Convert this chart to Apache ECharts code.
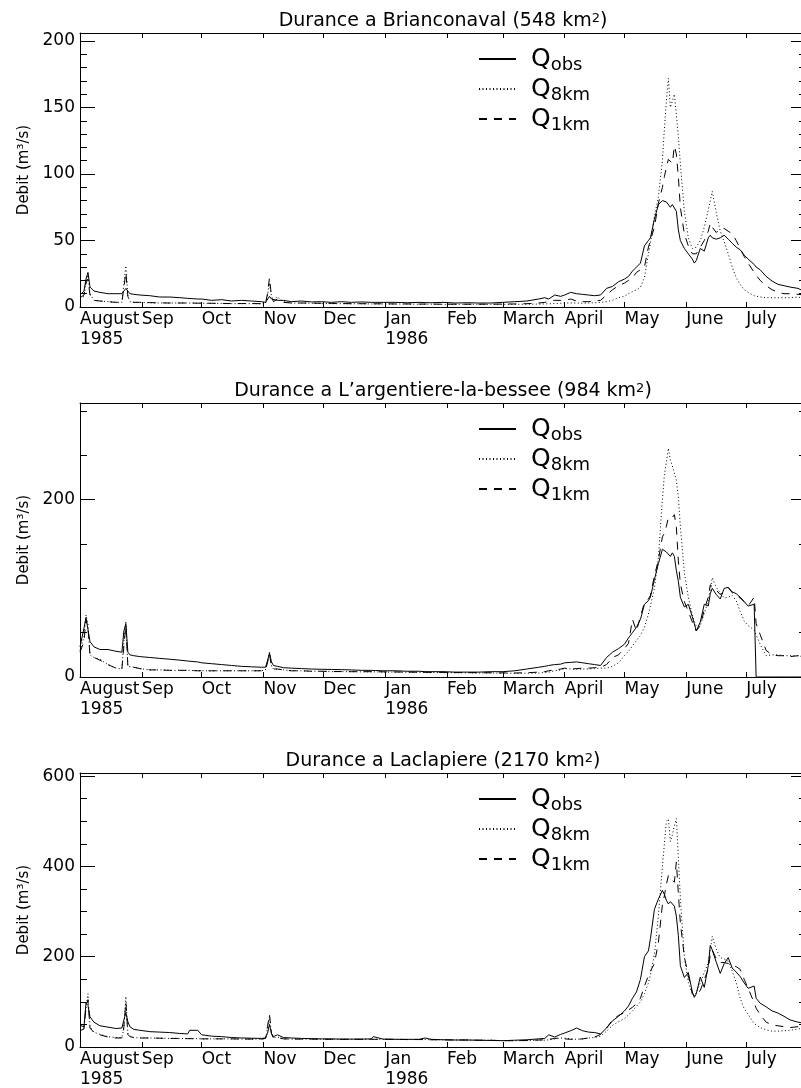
<!DOCTYPE html>
<html><head><meta charset="utf-8">
<script src="https://cdn.jsdelivr.net/npm/echarts@6/dist/echarts.min.js"></script>
<style>html,body{margin:0;padding:0;background:#fff}#c{width:801px;height:1088px}</style>
</head><body><div id="c"></div>
<script>
// ---------------- DATA ----------------
// day index = days since 1 August 1985 (hydrological year 1985-86)
const dayIndex = [
  0,2,3,4,5,7,10,14,18,21,22,23,24,25,27,30,
  35,40,45,50,54,55,59,61,66,71,76,81,86,91,
  93,94,95,96,97,99,100,102,106,111,116,121,
  126,131,136,141,146,147,148,152,
  158,164,170,173,174,176,182,
  188,194,200,206,
  212,218,224,230,233,235,238,241,
  243,246,249,252,255,258,261,264,267,270,
  273,275,277,279,281,283,285,286,288,290,292,293,294,295,296,297,298,299,300,301,303,
  305,307,308,309,311,313,315,316,317,319,321,323,325,327,329,331,333,
  335,338,339,341,344,347,350,353,356,360,364
];
const monthStartDay = [0,31,61,92,122,153,184,212,243,273,304,334];
const monthLabels = ['August\n1985','Sep','Oct','Nov','Dec','Jan\n1986','Feb','March','April','May','June','July'];
const panelTitles = ['Durance a Brianconaval (548 km²)', 'Durance a L\u2019argentiere-la-bessee (984 km²)', 'Durance a Laclapiere (2170 km²)'];
const seriesNames = ['Qobs','Q8km','Q1km'];
const yAxisName = 'Debit (m³/s)';
const yMax = [206, 309, 607];
const yMajorStep = [50, 200, 200];
const yMinorStep = [10, 50, 50];

// Brianconaval
const obsBrianconaval = [
  9,12,21,26,15,12,11,10,10,10,11,14,12,10,9.5,9,
  8.5,7.5,7.5,7,6.5,6.5,6,6,5,5.5,4.5,5,4.5,4,
  3.5,5,8,6,4.5,5,4,5,4,4.5,3.8,4,
  3.5,4,3.5,3.8,3.5,3.5,3.5,3.5,
  3.5,3.2,3.5,3.3,3.3,3.2,3.5,
  3,3.2,3,3,
  3.5,4,4.5,6,7,6,9,8,
  9,11,10,9.5,9,8.5,9,14,15.5,19,
  21,23,27,30,33,46,50,52,66,77,80,80,79,78,75,77,78,72,58,50,44,
  40,36,33,35,44,42,52,54,52,51,52,54,51,48,45,43,39,
  36,32,30,28,23,19.5,17,16,15,14,11
];
const sim8Brianconaval = [
  6,8,18,24,10,5,4.5,4,3.5,3.5,4,31,8,4,3.5,3.5,
  3.2,3,3,3,3,3,2.8,2.8,2.7,2.6,2.5,2.5,2.5,2.4,
  2.5,8,18,8,5,8,6,4,3,3,2.8,2.7,
  2.5,2.5,2.4,2.4,2.3,2.3,2.3,2.3,
  2.2,2.2,2.1,2.1,2.1,2.1,2,
  2,2,2,2,
  2,2,2.1,2.2,2.3,2.4,2.6,2.8,
  3,3,3,2.8,3,3.2,3.5,4,5,7,
  8,10,11.5,13,15,22,40,48,68,83,110,134,155,172,150,155,160,145,128,108,72,
  52,44,43,45,50,60,73,80,87,71,57,49,40,30,22,17,13,
  11,8.5,8,7.5,7,7,7,7,7,7.5,6
];
const sim1Brianconaval = [
  7,9,18,21,9,5,4.5,4,3.5,3.5,4,26,8,4,3.5,3.5,
  3.3,3.1,3,3,3,3,2.9,2.9,2.8,2.7,2.6,2.6,2.6,2.5,
  2.6,10,22,8,4,6,5,3.5,3,3,2.9,2.8,
  2.7,2.6,2.5,2.5,2.4,2.4,2.4,2.4,
  2.3,2.3,2.2,2.2,2.2,2.2,2.1,
  2.1,2.1,2.1,2.1,
  2.2,2.3,2.5,3,3.5,4,5,5,
  5,6,4.5,4,4,4.5,5,9,13,16,
  18,20,22,26,28,30,45,50,60,78,90,98,105,111,110,108,121,115,98,75,55,
  46,40,39,40,45,50,57,63,60,56,59,59,57,55,50,44,38,
  33,26,25,20,16,13,11,10,10,9.5,9
];
// L'argentiere-la-bessee
const obsArgentiere = [
  34,55,67,68,40,34,31,31,29,28,52,60,28,25,24,23,
  22,21,20,19,18,18,17,16,15,14,13,12,11.5,11,
  11,18,27,17,13,12,11,10.5,10,9.5,9,8.7,
  8.5,8.3,8,7.5,7.5,7.5,7.3,7,
  7,6.5,6.5,6,6,6,6,
  5.5,5.5,5.5,6,
  6,7,9,11,12,13,14,14.5,
  16,16.5,17,16,15,14,13,22,28,32,
  37,44,50,56,65,82,86,90,110,128,144,142,141,139,136,140,136,120,108,90,79,
  82,68,60,52,62,82,80,94,100,93,88,100,101,96,94,90,85,
  80,82,0,0,0,0,0,0,0,0,0
];
const sim8Argentiere = [
  30,45,70,60,25,22,20,14,10,9,40,63,12,11,11,9.5,
  8,8,7.5,7.5,7.5,7.5,7,7,7,7,7,7,7,7,
  8,18,28,12,9,9,8,8,7,7,6.5,6.5,
  6,6,6,5.8,5.8,5.8,5.8,5.5,
  5.5,5.3,5.2,5,5,5,5,
  4.8,4.7,4.5,4.5,
  4.3,4.2,4.3,4.5,5,5.5,7,8,
  9.5,9,8.5,9,9,9.5,10,10,12,16,
  24,29,35,41,47,56,71,80,100,135,200,228,242,258,245,238,238,222,203,170,118,
  90,70,63,57,58,72,86,98,112,101,95,89,90,92,86,74,63,
  58,53,52,37,24,25,25,24,24,24,22
];
const sim1Argentiere = [
  28,40,65,55,25,22,19,14,10,9,35,58,12,11,11,9.5,
  8,8,7.5,7.5,7.5,7.5,7,7,7,7,7,7,7,7,
  8,16,26,12,9,9,8,8,7,7,6.5,6.5,
  6.2,6.2,6,6,6,6,6,5.8,
  5.7,5.5,5.4,5.3,5.3,5.2,5.2,
  5,5,4.8,4.8,
  4.6,4.5,4.8,5.5,6,7,8,9,
  10,9,9.5,10,10,10.5,11,14,22,25,
  32,38,65,52,68,84,88,92,114,132,158,162,170,180,182,180,183,169,131,105,85,
  74,62,56,52,58,76,90,104,105,98,93,96,101,95,92,89,85,
  80,90,60,48,30,25,24,24,23,24,23
];
// Laclapiere
const obsLaclapiere = [
  48,45,97,92,67,55,47,44,41,42,60,76,56,45,39,37,
  34,33,32,30,29,37,37,27,24,23,21,20,19.5,19,
  20,30,50,30,23,27,25,21,20,19,18.5,18,
  18,17.5,17.5,17.5,18,23,19,17.5,
  17,17,17,20,21,17,16,
  15.5,15.5,15,14.5,
  14,15,16,18,19,27,22,28,
  31,36,42,36,33,32,29,42,58,68,
  80,91,108,122,150,200,213,240,305,328,347,338,325,317,322,324,312,290,247,180,154,
  165,122,110,118,155,132,180,225,215,188,163,185,198,175,166,156,142,
  130,135,108,97,89,80,75,68,60,55,52
];
const sim8Laclapiere = [
  38,42,85,118,45,33,28,23,21,21,40,112,30,24,21,20,
  20,19.5,19,19,18.5,18.5,18.5,18,18,18,18,17.5,17.5,17.5,
  19,40,68,28,20,22,20,18,17.5,17.5,17.5,17,
  17,17,17,17,17,17,17,17,
  17,16.5,16.5,16.5,16.5,16,16,
  15.5,15.5,15,15,
  14,14,14,15,15,16,18,20,
  20,18,17,18,20,21,24,35,48,56,
  63,71,80,90,100,118,142,160,205,291,400,450,500,505,455,470,490,506,420,330,200,
  143,118,113,120,142,165,187,215,245,217,198,195,190,168,143,108,85,
  72,52,48,43,38,35,35,36,37,40,42
];
const sim1Laclapiere = [
  36,40,90,105,42,32,27,22,20,20,45,100,28,23,21,20,
  20,19.5,19,19,18.5,18.5,18.5,18,18,18,18,17.5,17.5,17.5,
  19,45,72,30,20,21,20,18,17.5,17.5,17.5,17,
  17,17,17,17,17,17,17,17,
  17,16.5,16.5,16.5,16.5,16,16,
  15.5,15.5,15,15,
  14,14,14.5,15.5,16,17,19,20,
  18,17,17,18,20,22,28,42,60,70,
  76,82,88,96,108,135,158,168,185,232,315,335,360,380,375,370,365,410,340,275,200,
  158,118,113,113,125,150,172,205,215,195,187,187,185,181,178,172,150,
  130,98,86,72,55,49,47,45,43,45,47
];
const panelValues = [
  [obsBrianconaval, sim8Brianconaval, sim1Brianconaval],
  [obsArgentiere, sim8Argentiere, sim1Argentiere],
  [obsLaclapiere, sim8Laclapiere, sim1Laclapiere]
];

// ---------------- LAYOUT / STYLE ----------------
const FONT = 'DejaVu Sans';
const LEGEND_FONT = '"DejaVu Sans ExtraLight", "DejaVu Sans"';
const GRID_TOP = [33, 403, 773];
const GRID_LEFT = 80, GRID_W = 726, GRID_H = 274;
const DASH = ['solid', [1, 2.5], [8, 7]];
const BLACK = '#000';

const grid = [], xAxis = [], yAxis = [], series = [], title = [], legend = [];
panelTitles.forEach((t, i) => {
  const top = GRID_TOP[i];
  grid.push({left: GRID_LEFT, top, width: GRID_W, height: GRID_H, containLabel: false, outerBoundsMode: 'none'});
  const xBase = {
    type: 'value', gridIndex: i, min: 0, max: 364, splitLine: {show: false},
    axisLine: {onZero: false, lineStyle: {color: BLACK, width: 1}},
    axisTick: {inside: true, length: 5, customValues: monthStartDay, lineStyle: {color: BLACK}}
  };
  xAxis.push(Object.assign({}, xBase, {
    position: 'bottom',
    axisLabel: {customValues: monthStartDay, formatter: v => { const k = monthStartDay.indexOf(v); return k >= 0 ? monthLabels[k] : ''; },
      align: 'left', color: BLACK, fontFamily: FONT, fontSize: 17, lineHeight: 20, margin: 3}
  }));
  xAxis.push(Object.assign({}, xBase, {position: 'top', axisLabel: {show: false}}));
  const yBase = {type: 'value', gridIndex: i, min: 0, max: yMax[i], splitLine: {show: false}};
  yAxis.push(Object.assign({}, yBase, {
    position: 'left', interval: yMajorStep[i],
    axisLine: {show: true, onZero: false, lineStyle: {color: BLACK}},
    axisTick: {inside: true, length: 15, lineStyle: {color: BLACK}},
    axisLabel: {color: BLACK, fontFamily: FONT, fontSize: 17, margin: 5, showMaxLabel: false},
    name: yAxisName, nameLocation: 'middle', nameGap: 47, nameRotate: 90,
    nameTextStyle: {color: BLACK, fontFamily: FONT, fontSize: 15}
  }));
  yAxis.push(Object.assign({}, yBase, {
    position: 'left', interval: yMinorStep[i],
    axisLine: {show: false, onZero: false},
    axisTick: {inside: true, length: 7, lineStyle: {color: BLACK}}, axisLabel: {show: false}
  }));
  yAxis.push(Object.assign({}, yBase, {
    position: 'right', interval: yMajorStep[i],
    axisLine: {show: true, onZero: false, lineStyle: {color: BLACK}},
    axisTick: {inside: true, length: 15, lineStyle: {color: BLACK}}, axisLabel: {show: false}
  }));
  yAxis.push(Object.assign({}, yBase, {
    position: 'right', interval: yMinorStep[i],
    axisLine: {show: false, onZero: false},
    axisTick: {inside: true, length: 7, lineStyle: {color: BLACK}}, axisLabel: {show: false}
  }));
  panelValues[i].forEach((vals, s) => {
    series.push({
      type: 'line', name: seriesNames[s], xAxisIndex: 2 * i, yAxisIndex: 4 * i,
      data: dayIndex.map((d, k) => [d, vals[k]]),
      symbol: 'none', silent: true, clip: true,
      itemStyle: {color: BLACK},
      lineStyle: {color: BLACK, width: 1, type: DASH[s]}
    });
  });
  const parts = t.split('²');
  title.push({
    text: '{a|' + parts[0] + '}{s|2}{a|' + parts[1] + '}',
    left: GRID_LEFT + GRID_W / 2, top: top - 21, textAlign: 'center', padding: 0,
    textStyle: {fontWeight: 'normal', rich: {
      a: {fontSize: 19, fontFamily: FONT, fontWeight: 'normal', color: BLACK},
      s: {fontSize: 13, fontFamily: FONT, fontWeight: 'normal', color: BLACK, padding: [0, 0, 6, 0]}
    }}
  });
  legend.push({
    left: 478, top: top + 11, orient: 'vertical', padding: 0, itemGap: 0,
    itemWidth: 37, itemHeight: 12, selectedMode: false, data: seriesNames,
    itemStyle: {opacity: 0, color: 'rgba(0,0,0,0)', borderWidth: 0},
    formatter: n => '{q|Q}{s|' + n.slice(1) + '}',
    textStyle: {color: BLACK, fontFamily: LEGEND_FONT, rich: {
      q: {fontSize: 25, lineHeight: 34, padding: [0, 0, 0, 10], fontFamily: LEGEND_FONT, color: BLACK},
      s: {fontSize: 18, lineHeight: 22, padding: [12, 0, 0, 0], fontFamily: LEGEND_FONT, color: BLACK}
    }}
  });
});

const chart = echarts.init(document.getElementById('c'), null, {renderer: 'canvas', width: 801, height: 1088});
chart.setOption({
  backgroundColor: '#fff', animation: false,
  grid, xAxis, yAxis, series, title, legend
});
</script>
</body></html>
